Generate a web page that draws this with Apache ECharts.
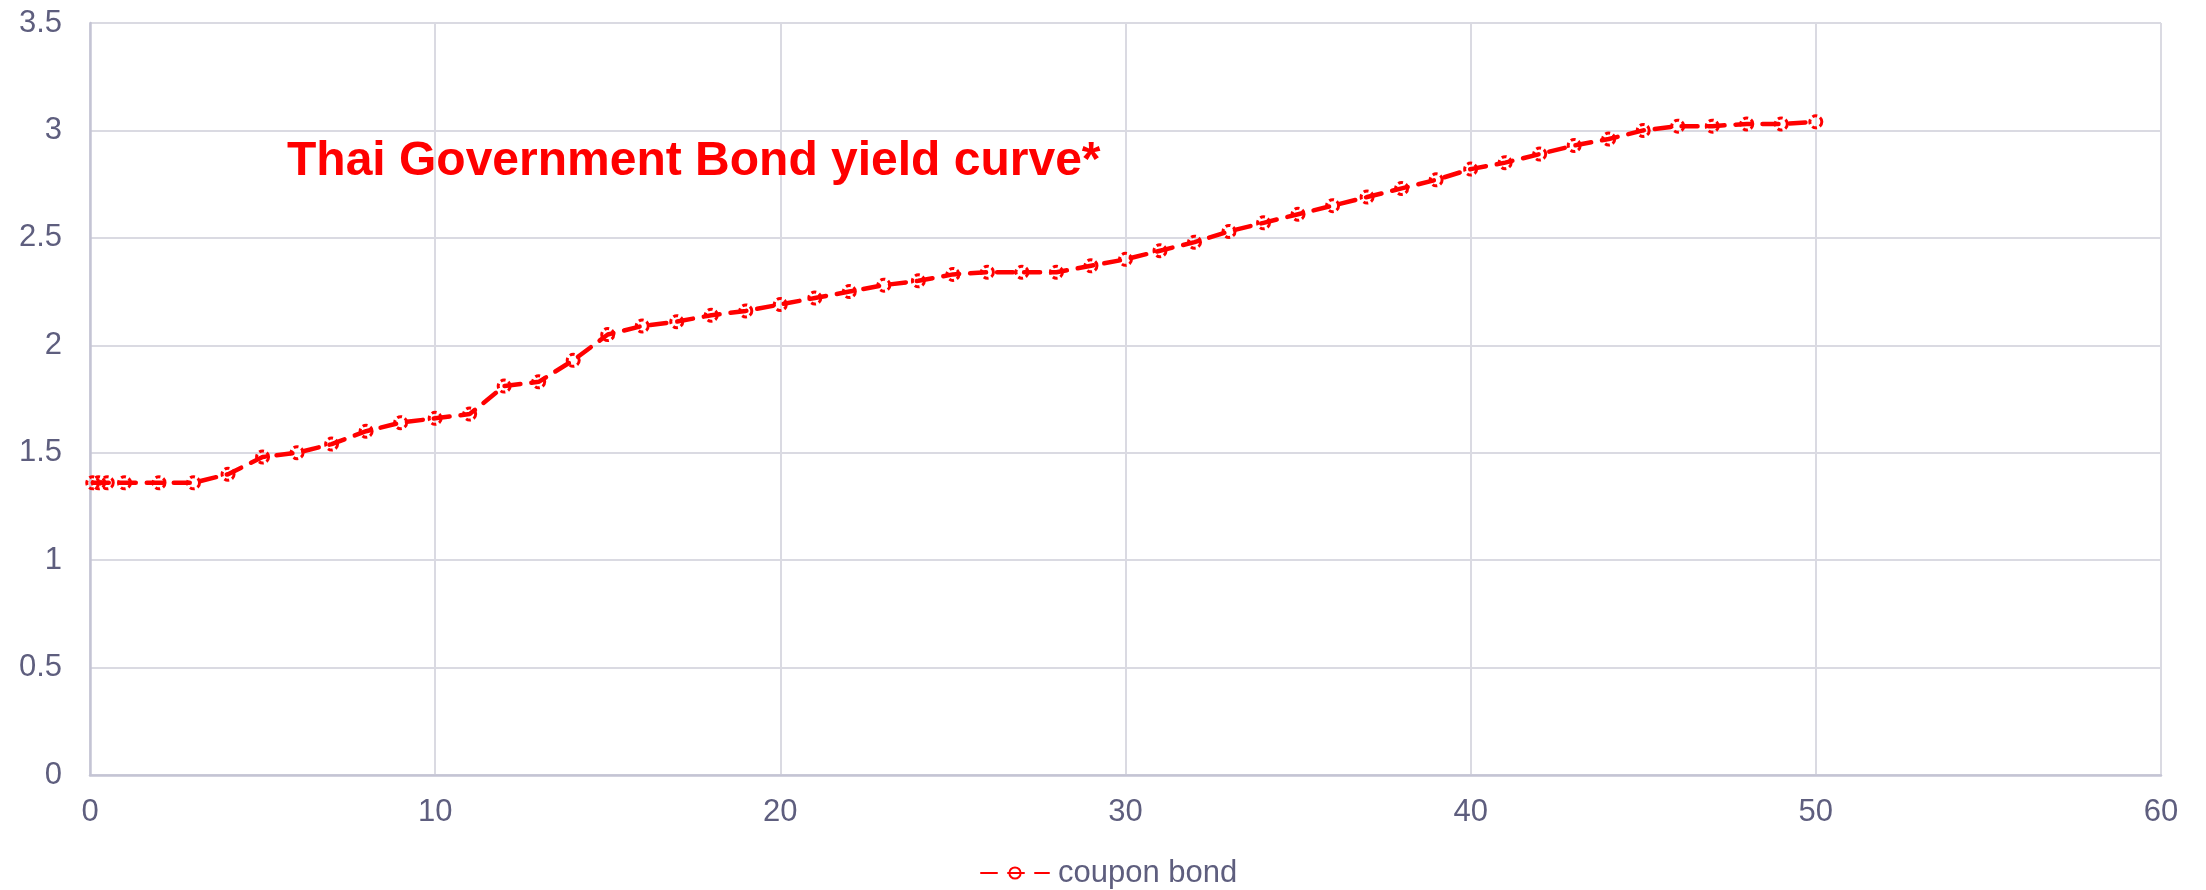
<!DOCTYPE html>
<html>
<head>
<meta charset="utf-8">
<title>Thai Government Bond yield curve</title>
<script src="https://cdn.jsdelivr.net/npm/echarts@6/dist/echarts.min.js"></script>
<style>
  html, body { margin: 0; padding: 0; background: #ffffff; }
  #chart { width: 2206px; height: 890px; }
</style>
</head>
<body>
<div id="chart"></div>
<script>
// Maturity in years
const maturities = [0.08, 0.25, 0.5, 1, 2, 3, 4, 5, 6, 7, 8, 9, 10, 11, 12, 13, 14, 15,
  16, 17, 18, 19, 20, 21, 22, 23, 24, 25, 26, 27, 28, 29, 30, 31, 32, 33, 34, 35,
  36, 37, 38, 39, 40, 41, 42, 43, 44, 45, 46, 47, 48, 49, 50];

// Yield (%) for each maturity
const couponBondYields = [1.36, 1.36, 1.36, 1.36, 1.36, 1.36, 1.40, 1.48, 1.50, 1.54,
  1.60, 1.64, 1.66, 1.68, 1.81, 1.83, 1.93, 2.05, 2.09, 2.11, 2.14, 2.16, 2.19, 2.22,
  2.25, 2.28, 2.30, 2.33, 2.34, 2.34, 2.34, 2.37, 2.40, 2.44, 2.48, 2.53, 2.57, 2.61,
  2.65, 2.69, 2.73, 2.77, 2.82, 2.85, 2.89, 2.93, 2.96, 3.00, 3.02, 3.02, 3.03, 3.03, 3.04];

const seriesName = 'coupon bond';
const chartTitle = 'Thai Government Bond yield curve*';

const points = maturities.map((m, i) => [m, couponBondYields[i]]);

const FONT = '"Liberation Sans", Arial, sans-serif';
const LABEL_COLOR = '#5e5e7e';
const RED = '#ff0000';

const chart = echarts.init(document.getElementById('chart'), null, { renderer: 'canvas' });

chart.setOption({
  backgroundColor: '#ffffff',
  animation: false,
  title: {
    text: chartTitle,
    left: 287,
    top: 138,
    padding: 0,
    textStyle: {
      color: RED,
      fontFamily: FONT,
      fontWeight: 'bold',
      fontSize: 48,
      lineHeight: 48
    }
  },
  legend: {
    data: [seriesName],
    left: 980,
    top: 857,
    padding: 0,
    itemWidth: 68,
    itemHeight: 14,
    textStyle: {
      color: LABEL_COLOR,
      fontFamily: FONT,
      fontSize: 31,
      lineHeight: 32,
      padding: [0, 0, 0, 4]
    }
  },
  grid: {
    left: 90,
    right: 45,
    top: 23,
    bottom: 115,
    containLabel: false
  },
  xAxis: {
    type: 'value',
    min: 0,
    max: 60,
    interval: 10,
    axisLine: { show: true, onZero: false, lineStyle: { color: '#c4c4d4', width: 2.5 } },
    axisTick: { show: false },
    axisLabel: {
      color: LABEL_COLOR,
      fontFamily: FONT,
      fontSize: 31,
      margin: 22
    },
    splitLine: { show: true, lineStyle: { color: '#dadae2', width: 2 } }
  },
  yAxis: {
    type: 'value',
    min: 0,
    max: 3.5,
    interval: 0.5,
    axisLine: { show: true, lineStyle: { color: '#c4c4d4', width: 2.5 } },
    axisTick: { show: false },
    axisLabel: {
      color: LABEL_COLOR,
      fontFamily: FONT,
      fontSize: 31,
      margin: 28
    },
    splitLine: { show: true, lineStyle: { color: '#dadae2', width: 2 } }
  },
  series: [{
    name: seriesName,
    type: 'line',
    data: points,
    symbol: 'circle',
    symbolSize: 12,
    showSymbol: true,
    lineStyle: {
      color: RED,
      width: 4.5,
      type: [16, 11],
      cap: 'round'
    },
    itemStyle: {
      color: 'rgba(255,0,0,0)',
      borderColor: RED,
      borderWidth: 3,
      borderType: [5, 3]
    },
    emphasis: { disabled: true }
  }]
});
</script>
</body>
</html>
